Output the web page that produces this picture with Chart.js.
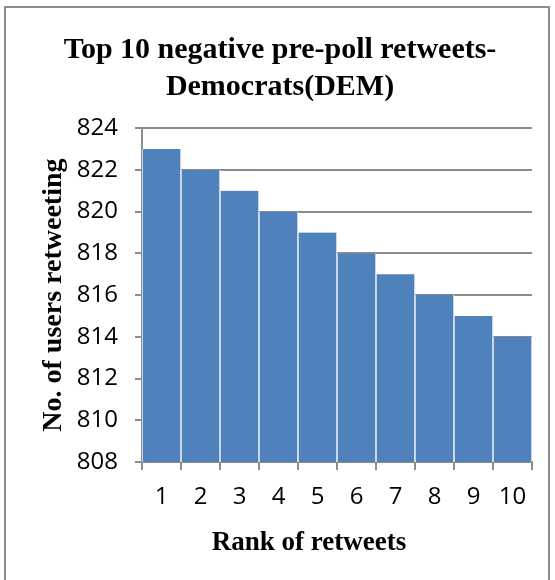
<!DOCTYPE html>
<html>
<head>
<meta charset="utf-8">
<script src="https://cdn.jsdelivr.net/npm/chart.js@4/dist/chart.umd.min.js"></script>
<style>
  html, body { margin: 0; padding: 0; background: #fff; }
  #wrap { position: relative; width: 555px; height: 580px; }
  #frame { position: absolute; left: 4px; top: 6px; width: 546px; height: 580px;
           border: 2px solid #8c8c8c; border-bottom: none; box-sizing: border-box; }
  canvas { position: absolute; left: 0; top: 0; }
</style>
</head>
<body>
<div id="wrap">
  <div id="frame"></div>
  <canvas id="c" width="555" height="580"></canvas>
</div>
<script>
// Retweet ranks and how many users retweeted each one
const ranks = ['1', '2', '3', '4', '5', '6', '7', '8', '9', '10'];
const userCounts = [823, 822, 821, 820, 819, 818, 817, 816, 815, 814];
const yMin = 808;
const yMax = 824;
const yStep = 2;

const chartTitle = ['Top 10 negative pre-poll retweets-', 'Democrats(DEM)'];
const xTitle = 'Rank of retweets';
const yTitle = 'No. of users retweeting';

const serifFamily = '"Liberation Serif", "Times New Roman", serif';
const tickFont = { family: '"Open Sans", "Liberation Sans", sans-serif', size: 24 };

// Draws the x-axis caption below the tick labels, a little left of the plot centre
const xCaption = {
  id: 'xCaption',
  afterDraw(chart) {
    const { ctx, chartArea } = chart;
    ctx.save();
    ctx.font = 'bold 27px ' + serifFamily;
    ctx.fillStyle = '#000';
    ctx.textAlign = 'center';
    ctx.textBaseline = 'middle';
    ctx.fillText(xTitle, (chartArea.left + chartArea.right) / 2 - 28, chartArea.bottom + 81);
    ctx.restore();
  }
};

new Chart(document.getElementById('c'), {
  type: 'bar',
  data: {
    labels: ranks,
    datasets: [{
      data: userCounts,
      backgroundColor: '#4f81bd',
      borderColor: '#ffffff',
      borderWidth: { left: 1, right: 1, top: 0, bottom: 0 },
      borderSkipped: false,
      barPercentage: 1,
      categoryPercentage: 1
    }]
  },
  plugins: [xCaption],
  options: {
    responsive: false,
    animation: false,
    layout: { padding: { left: 28, right: 23, top: 32, bottom: 0 } },
    plugins: {
      legend: { display: false },
      tooltip: { enabled: false },
      title: {
        display: true,
        text: chartTitle,
        color: '#000',
        font: { family: serifFamily, weight: 'bold', size: 30, lineHeight: 1.22 },
        padding: { top: 0, bottom: 23 }
      }
    },
    scales: {
      x: {
        offset: true,
        afterFit(scale) { scale.height = 118; },
        grid: {
          offset: true,
          drawOnChartArea: false,
          color: '#8c8c8c',
          lineWidth: 2,
          tickLength: 8
        },
        border: { color: '#8c8c8c', width: 2 },
        ticks: { color: '#000', font: tickFont, padding: 13, maxRotation: 0 }
      },
      y: {
        min: yMin,
        max: yMax,
        afterFit(scale) { scale.width = 114; },
        ticks: { stepSize: yStep, color: '#000', font: tickFont, padding: 17 },
        grid: { color: '#8c8c8c', lineWidth: 2, tickLength: 7 },
        border: { color: '#8c8c8c', width: 2 },
        title: {
          display: true,
          text: yTitle,
          color: '#000',
          font: { family: serifFamily, weight: 'bold', size: 28 },
          padding: { top: 9, bottom: 0 }
        }
      }
    }
  }
});
</script>
</body>
</html>
